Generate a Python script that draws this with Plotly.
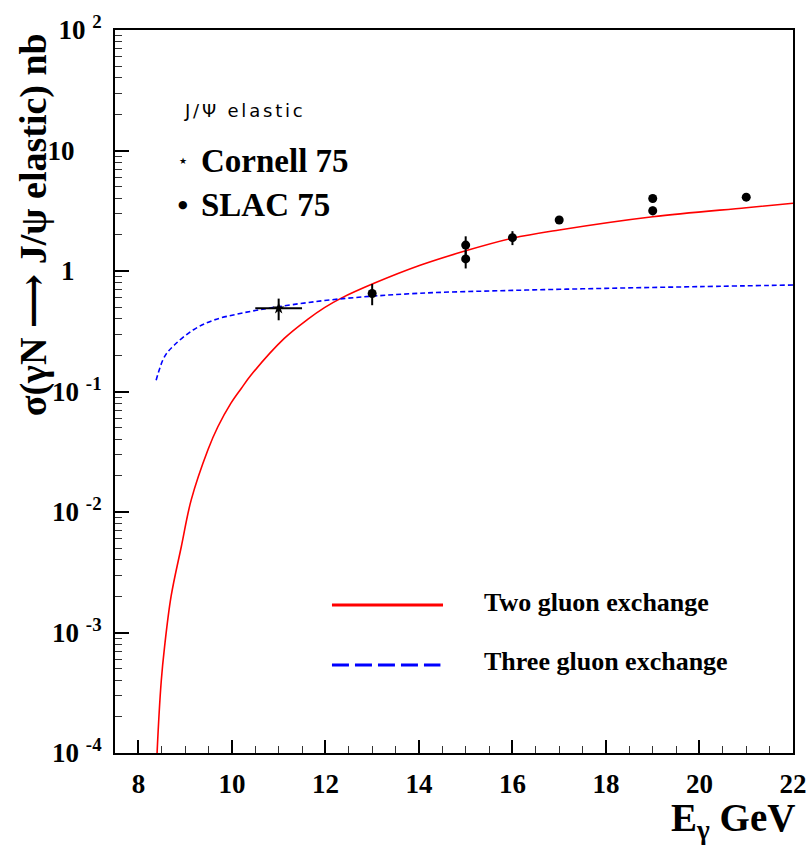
import plotly.graph_objects as go

# ---------------- data ----------------
cornell_x = [11.0]
cornell_y = [0.49]
cornell_xerr = [0.5]
cornell_yerr = [0.10]

slac_x = [13, 15, 15, 16, 17, 19, 19, 21]
slac_y = [0.65, 1.64, 1.26, 1.89, 2.65, 4.0, 3.16, 4.1]
slac_yerr = [0.13, 0.30, 0.21, 0.25, 0.15, 0.20, 0.26, 0.20]

two_gluon_x = [8.38, 8.40, 8.49, 8.56, 8.70, 8.92, 9.13, 9.49, 9.70, 9.98, 10.20, 10.41, 11.12,
               11.62, 11.98, 12.33, 13.04, 14.04, 15.0, 16.0, 17.0, 19.0, 21.0, 22.0]
two_gluon_y = [6e-5, 1.0e-4, 4.0e-4, 7.6e-4, 2.0e-3, 5.2e-3, 0.0126, 0.033, 0.051, 0.080, 0.106, 0.137, 0.276,
               0.397, 0.497, 0.593, 0.79, 1.12, 1.47, 1.87, 2.19, 2.82, 3.35, 3.65]

three_gluon_x = [8.38, 8.56, 8.77, 9.17, 9.6, 10.2, 11.0, 12.3, 14.0, 16.0, 18.0, 20.0, 22.0]
three_gluon_y = [0.124, 0.195, 0.243, 0.324, 0.39, 0.446, 0.506, 0.586, 0.653, 0.69, 0.718, 0.742, 0.765]

x_tickvals = [8, 10, 12, 14, 16, 18, 20, 22]
x_ticktext = ["8", "10", "12", "14", "16", "18", "20", "22"]
y_tickvals = [1e-4, 1e-3, 1e-2, 1e-1, 1, 10, 100]
y_ticktext = ["10&nbsp;<sup>-4</sup>", "10&nbsp;<sup>-3</sup>", "10&nbsp;<sup>-2</sup>", "10&nbsp;<sup>-1</sup>",
              "1&nbsp;&nbsp;&nbsp;&nbsp;", "10&nbsp;&nbsp;&nbsp;&nbsp;", "10&nbsp;<sup>2</sup>"]
y_minor = [m * 10 ** e for e in range(-4, 2) for m in range(2, 10)]

SERIF = "Liberation Serif, Times New Roman, serif"

fig = go.Figure()

fig.add_trace(go.Scatter(
    x=two_gluon_x, y=two_gluon_y, mode="lines",
    line=dict(color="#ff0000", width=1.6, shape="spline", smoothing=1.0),
    showlegend=False, hoverinfo="skip"))
fig.add_trace(go.Scatter(
    x=three_gluon_x, y=three_gluon_y, mode="lines",
    line=dict(color="#0000ff", width=1.6, dash="5px,3px", shape="spline", smoothing=1.0),
    showlegend=False, hoverinfo="skip"))

fig.add_trace(go.Scatter(
    x=cornell_x, y=cornell_y, mode="markers",
    marker=dict(symbol="star", size=9, color="black"),
    error_x=dict(type="data", array=cornell_xerr, color="black", thickness=2, width=0),
    error_y=dict(type="data", array=cornell_yerr, color="black", thickness=2, width=0),
    showlegend=False))
fig.add_trace(go.Scatter(
    x=slac_x, y=slac_y, mode="markers",
    marker=dict(symbol="circle", size=9, color="black"),
    error_y=dict(type="data", array=slac_yerr, color="black", thickness=2, width=0),
    showlegend=False))

tickfont = dict(family=SERIF, size=27, color="black", weight="bold")

fig.update_xaxes(
    type="linear", range=[7.5, 22], tickmode="array", tickvals=x_tickvals, ticktext=x_ticktext,
    ticks="inside", ticklen=13, tickwidth=1.5, tickcolor="black",
    minor=dict(dtick=0.5, tick0=0, ticks="inside", ticklen=7, tickwidth=1.2, tickcolor="#333"),
    showline=True, linewidth=2, linecolor="black", mirror=True, automargin=False,
    showgrid=False, zeroline=False, tickfont=tickfont, ticklabelstandoff=6)
fig.update_yaxes(
    type="log", range=[-4, 2], tickmode="array", tickvals=y_tickvals, ticktext=y_ticktext,
    ticks="inside", ticklen=14, tickwidth=1.5, tickcolor="black",
    minor=dict(tickmode="array", tickvals=y_minor, ticks="inside", ticklen=7, tickwidth=1.2, tickcolor="#333"),
    showline=True, linewidth=2, linecolor="black", mirror=True, automargin=False,
    showgrid=False, zeroline=False, tickfont=tickfont, ticklabelstandoff=6)

ann = []
ann.append(dict(text="σ(γN <span style='font-family:DejaVu Serif'>⟶</span> J/ψ elastic) nb",
                xref="paper", yref="paper", x=-0.1224, y=0.73,
                xanchor="center", yanchor="middle", textangle=-90, showarrow=False,
                font=dict(family=SERIF, size=38, color="black", weight="bold")))
ann.append(dict(text="E<sub>γ</sub> GeV", xref="paper", yref="paper", x=1.006, y=-0.093,
                xanchor="right", yanchor="middle", showarrow=False,
                font=dict(family=SERIF, size=39, color="black", weight="bold")))
ann.append(dict(text="<span style='letter-spacing:2.8px'>J/Ψ elastic</span>", xref="paper", yref="paper",
                x=0.0988, y=0.888, xanchor="left", yanchor="middle", showarrow=False,
                font=dict(family="DejaVu Sans", size=18, color="black", weight="normal")))
ann.append(dict(text="★", xref="paper", yref="paper", x=0.1003, y=0.819,
                xanchor="center", yanchor="middle", showarrow=False,
                font=dict(family="DejaVu Sans", size=9, color="black")))
ann.append(dict(text="●", xref="paper", yref="paper", x=0.1003, y=0.758,
                xanchor="center", yanchor="middle", showarrow=False,
                font=dict(family="DejaVu Sans", size=11, color="black")))
ann.append(dict(text="Cornell 75", xref="paper", yref="paper", x=0.1239, y=0.819,
                xanchor="left", yanchor="middle", showarrow=False,
                font=dict(family=SERIF, size=33, color="black", weight="bold")))
ann.append(dict(text="SLAC 75", xref="paper", yref="paper", x=0.1239, y=0.758,
                xanchor="left", yanchor="middle", showarrow=False,
                font=dict(family=SERIF, size=33, color="black", weight="bold")))
ann.append(dict(text="Two gluon exchange", xref="paper", yref="paper", x=0.5413, y=0.2075,
                xanchor="left", yanchor="middle", showarrow=False,
                font=dict(family=SERIF, size=26, color="black", weight="bold")))
ann.append(dict(text="Three gluon exchange", xref="paper", yref="paper", x=0.5413, y=0.1259,
                xanchor="left", yanchor="middle", showarrow=False,
                font=dict(family=SERIF, size=26, color="black", weight="bold")))

shapes = [
    dict(type="line", xref="paper", yref="paper", x0=0.320, x1=0.4838, y0=0.2047, y1=0.2047,
         line=dict(color="#ff0000", width=3)),
    dict(type="line", xref="paper", yref="paper", x0=0.320, x1=0.4800, y0=0.1217, y1=0.1217,
         line=dict(color="#0000ff", width=3, dash="17px,6px")),
]

fig.update_layout(
    width=810, height=845, autosize=False,
    margin=dict(l=115, r=17, t=30, b=92, pad=0, autoexpand=False),
    paper_bgcolor="white", plot_bgcolor="white",
    annotations=ann, shapes=shapes, showlegend=False,
)

fig.write_html("out.html")
